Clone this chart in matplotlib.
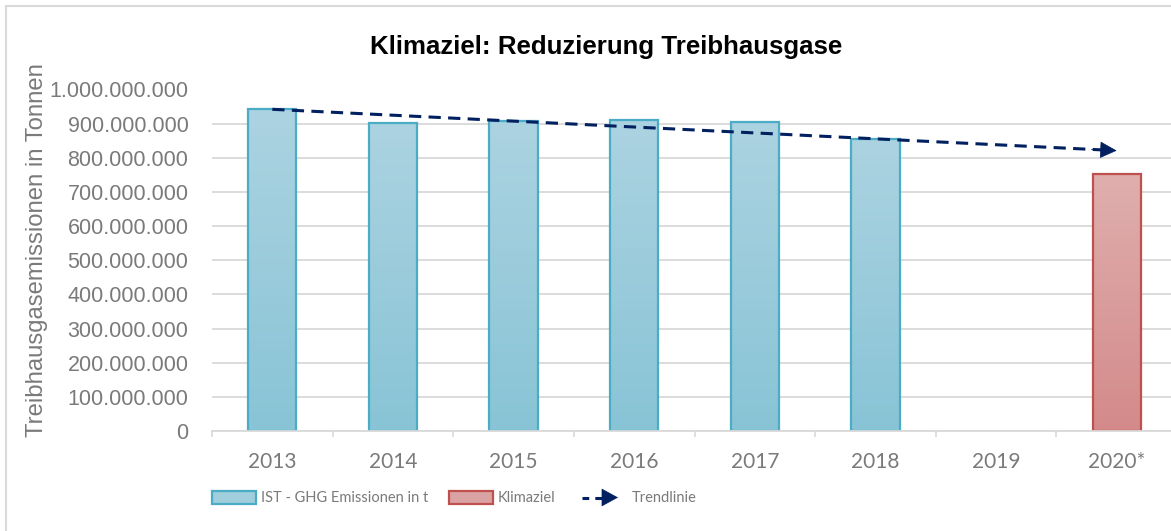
import numpy as np
import matplotlib
matplotlib.use("Agg")
import matplotlib.pyplot as plt
from matplotlib.colors import LinearSegmentedColormap
from matplotlib.patches import Rectangle, FancyArrowPatch
from matplotlib.lines import Line2D

# data
categories = ["2013", "2014", "2015", "2016", "2017", "2018", "2019", "2020*"]
ist_values = [944e6, 903e6, 909e6, 912e6, 906e6, 856e6, np.nan, np.nan]
ziel_values = [np.nan, np.nan, np.nan, np.nan, np.nan, np.nan, np.nan, 752e6]
trend_idx = [0, 7]
trend_values = [942e6, 821e6]
y_ticks = [0, 100e6, 200e6, 300e6, 400e6, 500e6, 600e6, 700e6, 800e6, 900e6, 1000e6]

W, H = 1171, 531
grey_txt = "#7a7a7a"
grid_c = "#D9D9D9"
navy = "#002060"
blue_edge, red_edge = "#4BACC6", "#C0504D"
blue_cmap = LinearSegmentedColormap.from_list("b", ["#88C4D6", "#ACD3E1"])
red_cmap = LinearSegmentedColormap.from_list("r", ["#D48A8A", "#DFAFAE"])

fig = plt.figure(figsize=(W / 100, H / 100), dpi=100)
ax = fig.add_axes([212 / W, 1 - 431 / H, 965 / W, 341.5 / H])

x = np.arange(len(categories))
grad = np.linspace(0, 1, 256).reshape(-1, 1)


def gradient_bars(values, cmap, edge):
    bars = ax.bar(x, values, width=0.4, facecolor="none", edgecolor=edge,
                  linewidth=1.6, zorder=3)
    for b in bars:
        h = b.get_height()
        if not np.isfinite(h):
            continue
        im = ax.imshow(grad, extent=[b.get_x(), b.get_x() + b.get_width(), 0, h],
                       origin="lower", aspect="auto", cmap=cmap, zorder=2)
        im.set_clip_path(b)
    return bars


gradient_bars(ist_values, blue_cmap, blue_edge)
gradient_bars(ziel_values, red_cmap, red_edge)

# trend line with arrow head
tx = np.array(trend_idx, dtype=float)
ty = np.array(trend_values)
frac = 0.985
x_end = tx[0] + (tx[1] - tx[0]) * frac
y_end = ty[0] + (ty[1] - ty[0]) * frac
ax.plot([tx[0], x_end], [ty[0], y_end], color=navy, lw=2.2,
        dashes=(4, 2.4), zorder=4)
x_b = tx[0] + (tx[1] - tx[0]) * 0.97
y_b = ty[0] + (ty[1] - ty[0]) * 0.97
ax.annotate("", xy=(tx[1], ty[1]), xytext=(x_b, y_b),
            arrowprops=dict(arrowstyle="-|>,head_length=1.1,head_width=0.55",
                            color=navy, lw=0.5, shrinkA=0, shrinkB=0), zorder=5)

ax.set_xlim(-0.5, len(categories) - 0.5)
ax.set_ylim(0, 1000e6)
ax.set_yticks(y_ticks)
ax.set_yticklabels([f"{int(v):,}".replace(",", ".") for v in y_ticks],
                   family="Liberation Sans", fontsize=15.5, color=grey_txt)
ax.set_xticks(x)
ax.set_xticklabels(categories, family="Lato", fontsize=15, color=grey_txt)
ax.set_xticks(np.arange(len(categories) + 1) - 0.5, minor=True)
ax.tick_params(axis="x", which="major", length=0, pad=15)
ax.tick_params(axis="x", which="minor", length=4.5, width=1.2, color=grid_c)
ax.tick_params(axis="y", length=0, pad=17)
ax.yaxis.grid(True, color=grid_c, lw=1.3)
ax.set_axisbelow(True)
for s in ["top", "right", "left"]:
    ax.spines[s].set_visible(False)
ax.spines["bottom"].set_color(grid_c)
ax.spines["bottom"].set_linewidth(1.3)
ax.spines["bottom"].set_zorder(6)

# title and y label
fig.text(606 / W, 1 - 47 / H, "Klimaziel: Reduzierung Treibhausgase",
         family="Liberation Sans", fontweight="bold", fontsize=18.6,
         ha="center", va="center")
fig.text(37 / W, 1 - 250 / H, "Treibhausgasemissionen in Tonnen",
         family="Liberation Sans", fontsize=17.2, color=grey_txt,
         rotation=90, ha="center", va="center")

# chart border
fig.add_artist(Rectangle((6 / W, -0.1), 1.2, 1 - 6 / H + 0.1,
                         transform=fig.transFigure, facecolor="none",
                         edgecolor=grid_c, lw=1.5))

# legend
leg_font = "Lato"
leg_size = 10.5
ly = 1 - 497.5 / H
fig.add_artist(Rectangle((212 / W, 1 - 504 / H), 44 / W, 13 / H,
                         transform=fig.transFigure, facecolor="#A0CEDD",
                         edgecolor=blue_edge, lw=1.6))
fig.text(261 / W, ly, "IST - GHG Emissionen in t", family=leg_font,
         fontsize=leg_size, color=grey_txt, va="center")
fig.add_artist(Rectangle((449 / W, 1 - 504 / H), 44 / W, 13 / H,
                         transform=fig.transFigure, facecolor="#DAA3A3",
                         edgecolor=red_edge, lw=1.6))
fig.text(498 / W, ly, "Klimaziel", family=leg_font,
         fontsize=leg_size, color=grey_txt, va="center")
fig.add_artist(Line2D([582 / W, 610 / W], [ly, ly], transform=fig.transFigure,
                      color=navy, lw=2.2, dashes=(2.2, 2.0)))
fig.add_artist(FancyArrowPatch((605 / W, ly), (618 / W, ly),
                               transform=fig.transFigure,
                               arrowstyle="-|>,head_length=11,head_width=6",
                               color=navy, lw=0.5, shrinkA=0, shrinkB=0))
fig.text(632 / W, ly, "Trendlinie", family=leg_font,
         fontsize=leg_size, color=grey_txt, va="center")

fig.savefig("out.png", dpi=100)
